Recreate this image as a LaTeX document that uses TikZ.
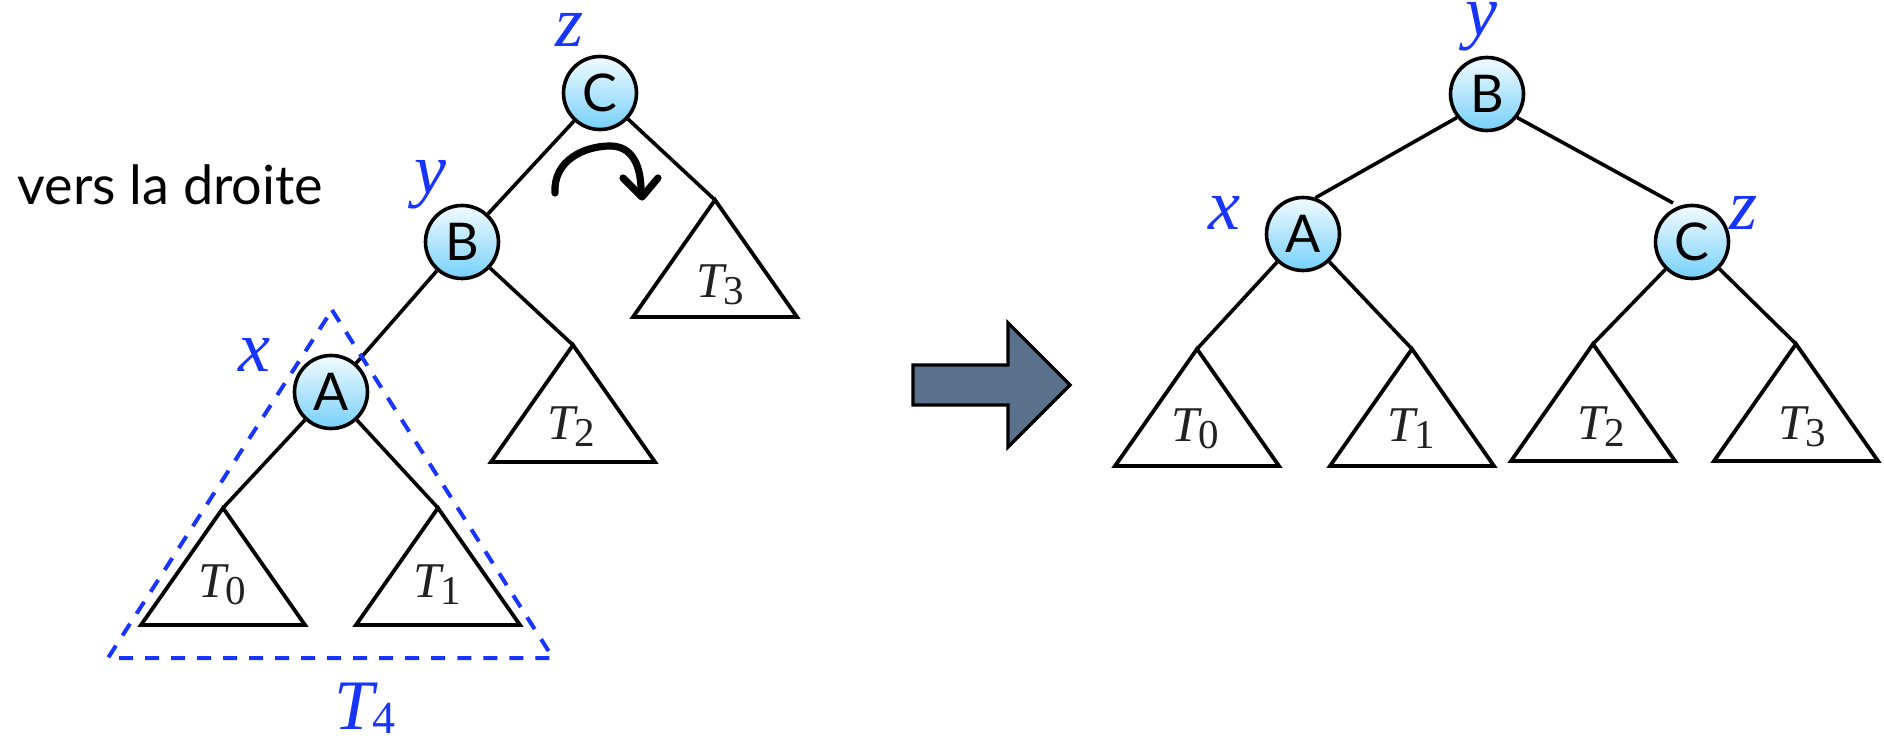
\documentclass[tikz,border=0pt]{standalone}
\usepackage{fontspec}
\setmainfont{Lato}
% Times-like face for the subtree names and the role letters
\IfFontExistsTF{Liberation Serif}
  {\newfontfamily\serifit{Liberation Serif}}
  {\IfFontExistsTF{TeX Gyre Termes}
     {\newfontfamily\serifit{TeX Gyre Termes}}
     {\newfontfamily\serifit{Latin Modern Roman}}}
\usetikzlibrary{shapes.geometric}

\definecolor{labblue}{RGB}{24,52,255}
\definecolor{nodetop}{RGB}{242,251,255}
\definecolor{nodebot}{RGB}{118,208,250}
\definecolor{arrowfill}{RGB}{90,114,142}
\definecolor{subtext}{RGB}{34,34,34}

% subtree name T_i with a lowered index
\newcommand{\subT}[1]{{\fontsize{25}{25}\serifit\itshape T}\kern-0.5pt\raisebox{-3.5pt}{\fontsize{20.5}{20.5}\serifit\upshape #1}}
% triangle of a subtree hanging from its apex
\newcommand{\subtree}[3]{%
  \coordinate (#1) at (#2,#3);
  \draw[subtreeline] (#1) -- ++(-82,117) -- ++(164,0) -- cycle;}

\begin{document}
\begin{tikzpicture}[x=0.5pt,y=-0.5pt,
  treenode/.style={circle, draw, line width=1.8pt, minimum size=36.5pt, inner sep=0pt,
    top color=nodetop, bottom color=nodebot, font=\fontsize{26}{26}\selectfont},
  edge/.style={line width=1.8pt},
  subtreeline/.style={line width=1.9pt, line join=miter},
  sublabel/.style={inner sep=0pt, text=subtext},
  rolelabel/.style={inner sep=0pt, text=labblue, font=\fontsize{36}{36}\serifit\itshape}]

\useasboundingbox (0,0) rectangle (1884,742);

% ---------- before the rotation ----------
\node[anchor=base west, inner sep=0pt, font=\fontsize{27}{27}\selectfont] (caption) at (17,205) {vers la droite};

\node[treenode] (lC) at (600,93) {C};
\node[treenode] (lB) at (462,242) {B};
\node[treenode] (lA) at (331,392) {A};

\node[rolelabel] (lz) at (570,30) {z};
\node[rolelabel] (ly) at (430,185) {y};
\node[rolelabel] (lx) at (254,355) {x};

\subtree{lT3}{715}{200}
\subtree{lT2}{573}{345}
\subtree{lT0}{223}{508}
\subtree{lT1}{438}{508}

\node[sublabel] (lT3lab) at (720,285) {\subT{3}};
\node[sublabel] (lT2lab) at (571,427) {\subT{2}};
\node[sublabel] (lT0lab) at (222,585) {\subT{0}};
\node[sublabel] (lT1lab) at (437,585) {\subT{1}};

\draw[edge] (lC) -- (lB);
\draw[edge] (lC) -- (lT3);
\draw[edge] (lB) -- (lA);
\draw[edge] (lB) -- (lT2);
\draw[edge] (lA) -- (lT0);
\draw[edge] (lA) -- (lT1);

% dashed outline of the subtree rooted at x
\draw[labblue, line width=2pt, dash pattern=on 7pt off 6pt] (332,310) -- (553,658) -- (108,658) -- cycle;
\node[inner sep=0pt, text=labblue] (T4lab) at (365,708)
  {{\fontsize{35.5}{35.5}\serifit\itshape T}\kern-1pt\raisebox{-2pt}{\fontsize{23}{23}\serifit\upshape 4}};

% hand-drawn rotation arrow
\draw[line width=3.6pt, line cap=round, line join=round]
  (555,193) .. controls (553,160) and (585,146) .. (610,146)
  .. controls (632,146) and (642,165) .. (641,196);
\draw[line width=3.6pt, line cap=round, line join=round]
  (623,178) -- (642,197) -- (658,178);

% ---------- block arrow ----------
\draw[fill=arrowfill, line width=1.6pt, line join=miter]
  (913,365) -- (1008,365) -- (1008,323) -- (1070,385) -- (1008,447)
  -- (1008,405) -- (913,405) -- cycle;

% ---------- after the rotation ----------
\node[treenode] (rB) at (1487,94) {B};
\node[treenode] (rA) at (1303,234) {A};
\node[treenode] (rC) at (1692,242) {C};

\node[rolelabel] (ry) at (1481,27) {y};
\node[rolelabel] (rx) at (1224,213) {x};
\node[rolelabel] (rz) at (1743,213) {z};

\coordinate (rCin) at (1673,203);

\subtree{rT0}{1197}{349}
\subtree{rT1}{1412}{349}
\subtree{rT2}{1593}{344}
\subtree{rT3}{1796}{344}

\node[sublabel] (rT0lab) at (1195,429) {\subT{0}};
\node[sublabel] (rT1lab) at (1411,429) {\subT{1}};
\node[sublabel] (rT2lab) at (1601,427) {\subT{2}};
\node[sublabel] (rT3lab) at (1802,427) {\subT{3}};

\draw[edge] (rB.218) -- (rA.71);
\draw[edge] (rB.322) -- (rCin);
\draw[edge] (rA) -- (rT0);
\draw[edge] (rA) -- (rT1);
\draw[edge] (rC) -- (rT2);
\draw[edge] (rC) -- (rT3);
\end{tikzpicture}
\end{document}
